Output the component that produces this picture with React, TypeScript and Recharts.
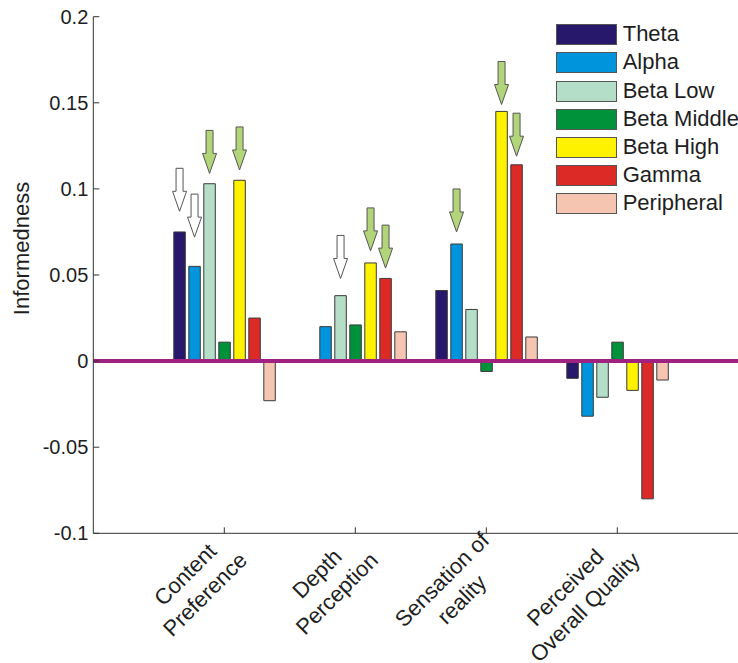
import React from "react";
import { BarChart, Bar, XAxis, YAxis, ReferenceLine, Legend, Rectangle } from "recharts";

const categories = [
  "Content Preference",
  "Depth Perception",
  "Sensation of reality",
  "Perceived Overall Quality",
];
const tickLines = [
  ["Content", "Preference"],
  ["Depth", "Perception"],
  ["Sensation of", "reality"],
  ["Perceived", "Overall Quality"],
];

const theta = [0.075, null, 0.041, -0.01];
const alpha = [0.055, 0.02, 0.068, -0.032];
const betaLow = [0.103, 0.038, 0.03, -0.021];
const betaMiddle = [0.011, 0.021, -0.006, 0.011];
const betaHigh = [0.105, 0.057, 0.145, -0.017];
const gamma = [0.025, 0.048, 0.114, -0.08];
const peripheral = [-0.023, 0.017, 0.014, -0.011];

const yTicks = [-0.1, -0.05, 0, 0.05, 0.1, 0.15, 0.2];

// arrows marking bars; tip = value where the arrow point sits
const arrows = [
  { category: "Content Preference", band: "theta", kind: "white", tip: 0.087 },
  { category: "Content Preference", band: "alpha", kind: "white", tip: 0.072 },
  { category: "Content Preference", band: "betaLow", kind: "green", tip: 0.109 },
  { category: "Content Preference", band: "betaHigh", kind: "green", tip: 0.111 },
  { category: "Depth Perception", band: "betaLow", kind: "white", tip: 0.048 },
  { category: "Depth Perception", band: "betaHigh", kind: "green", tip: 0.064 },
  { category: "Depth Perception", band: "gamma", kind: "green", tip: 0.054 },
  { category: "Sensation of reality", band: "alpha", kind: "green", tip: 0.075 },
  { category: "Sensation of reality", band: "betaHigh", kind: "green", tip: 0.149 },
  { category: "Sensation of reality", band: "gamma", kind: "green", tip: 0.119 },
];

const bands = [
  { key: "theta", name: "Theta", color: "#27186b" },
  { key: "alpha", name: "Alpha", color: "#0094dc" },
  { key: "betaLow", name: "Beta Low", color: "#b5dec9" },
  { key: "betaMiddle", name: "Beta Middle", color: "#00913b" },
  { key: "betaHigh", name: "Beta High", color: "#fff200" },
  { key: "gamma", name: "Gamma", color: "#dc2a27" },
  { key: "peripheral", name: "Peripheral", color: "#f6c5b2" },
];

const data = categories.map((name, i) => ({
  name,
  theta: theta[i],
  alpha: alpha[i],
  betaLow: betaLow[i],
  betaMiddle: betaMiddle[i],
  betaHigh: betaHigh[i],
  gamma: gamma[i],
  peripheral: peripheral[i],
}));

const FONT = '"Liberation Sans", Arial, sans-serif';
const AXIS = "#333";
const TEXT = "#1e1e1e";

let measureCtx: CanvasRenderingContext2D | null = null;
function textWidth(s: string, size: number) {
  if (!measureCtx && typeof document !== "undefined") {
    measureCtx = document.createElement("canvas").getContext("2d");
  }
  if (!measureCtx) return s.length * size * 0.5;
  measureCtx.font = `${size}px "Liberation Sans"`;
  return measureCtx.measureText(s).width;
}

function CategoryTick(props: any) {
  const { x, y, payload } = props;
  const lines = tickLines[categories.indexOf(payload.value)] || [payload.value];
  const size = 22;
  const maxW = Math.max(...lines.map((l) => textWidth(l, size)));
  return (
    <g>
      <line x1={x} x2={x} y1={y} y2={y - 6} stroke={AXIS} strokeWidth={1} />
      <g transform={`translate(${x},${y}) rotate(-45)`}>
        {lines.map((l, i) => (
          <text
            key={i}
            x={-maxW / 2 - 3}
            y={9 + i * 28}
            textAnchor="middle"
            fontSize={size}
            fontFamily={FONT}
            fill={TEXT}
          >
            {l}
          </text>
        ))}
      </g>
    </g>
  );
}

function TopTick(props: any) {
  const { x, y } = props;
  return <line x1={x} x2={x} y1={y} y2={y + 6} stroke={AXIS} strokeWidth={1} />;
}

function ValueTick(props: any) {
  const { x, y, payload } = props;
  return (
    <g>
      <line x1={x} x2={x + 6} y1={y} y2={y} stroke={AXIS} strokeWidth={1} />
      <text
        x={x - 5}
        y={y + 7}
        textAnchor="end"
        fontSize={20}
        fontFamily={FONT}
        fill={TEXT}
      >
        {String(payload.value)}
      </text>
    </g>
  );
}

function YLabel(props: any) {
  const vb = props.viewBox || { x: 0 };
  return (
    <text
      transform={`translate(${vb.x + 20.5},248.5) rotate(-90)`}
      textAnchor="middle"
      fontSize={22}
      fontFamily={FONT}
      fill={TEXT}
    >
      Informedness
    </text>
  );
}

function ArrowBar(props: any) {
  const { x, y, width, height, fill, stroke, payload, band } = props;
  const v = payload ? payload[band] : null;
  if (v == null) return null;
  const mark = arrows.find((a) => a.category === payload.name && a.band === band);
  let arrow = null;
  if (mark && v !== 0) {
    const ppu = Math.abs(height) / Math.abs(v);
    const zeroY = v >= 0 ? y + height : y;
    const tipY = zeroY - mark.tip * ppu;
    const cx = x + width / 2;
    const pts = [
      [cx - 3.5, tipY - 43],
      [cx + 3.5, tipY - 43],
      [cx + 3.5, tipY - 20],
      [cx + 7, tipY - 20],
      [cx, tipY],
      [cx - 7, tipY - 20],
      [cx - 3.5, tipY - 20],
    ]
      .map((p) => p.join(","))
      .join(" ");
    arrow = (
      <polygon
        points={pts}
        fill={mark.kind === "green" ? "#b3d57a" : "#ffffff"}
        stroke="#555"
        strokeWidth={1}
      />
    );
  }
  return (
    <g>
      <Rectangle x={x} y={y} width={width} height={height} fill={fill} stroke={stroke} strokeWidth={1} />
      {arrow}
    </g>
  );
}

function LegendContent(props: any) {
  const order = bands.map((b) => b.name);
  const payload = [...(props.payload || [])].sort(
    (a: any, b: any) => order.indexOf(a.value) - order.indexOf(b.value)
  );
  return (
    <div style={{ position: "relative", width: 190, height: 7 * 28.2, fontFamily: FONT }}>
      {payload.map((entry: any, i: number) => (
        <div key={entry.value} style={{ position: "absolute", left: 0, top: i * 28.2, height: 28 }}>
          <div
            style={{
              position: "absolute",
              left: 0,
              top: 0,
              width: 61,
              height: 21,
              boxSizing: "border-box",
              border: "1px solid #555",
              background: entry.color,
            }}
          />
          <div
            style={{
              position: "absolute",
              left: 67,
              top: -1.2,
              fontSize: 22,
              lineHeight: "22px",
              whiteSpace: "nowrap",
              color: TEXT,
            }}
          >
            {entry.value}
          </div>
        </div>
      ))}
    </div>
  );
}

export default function App() {
  return (
    <div
      style={{
        position: "absolute",
        left: 8,
        top: 0,
        width: 730,
        height: 663,
        overflow: "hidden",
        fontFamily: FONT,
        background: "#fff",
      }}
    >
      <BarChart
        width={760}
        height={663}
        data={data}
        margin={{ top: 16.7, right: 19.7, bottom: 19.7, left: 0 }}
        barSize={11.5}
        barGap={3.5}
      >
        <XAxis
          dataKey="name"
          type="category"
          interval={0}
          height={110}
          padding={{ left: 65.5, right: 65.5 }}
          axisLine={{ stroke: AXIS, strokeWidth: 1 }}
          tickLine={false}
          tickSize={0}
          tickMargin={0}
          tick={<CategoryTick />}
        />
        <XAxis
          xAxisId="top"
          orientation="top"
          dataKey="name"
          type="category"
          interval={0}
          height={0}
          padding={{ left: 65.5, right: 65.5 }}
          axisLine={{ stroke: AXIS, strokeWidth: 1 }}
          tickLine={false}
          tickSize={0}
          tickMargin={0}
          tick={<TopTick />}
        />
        <YAxis
          type="number"
          domain={[-0.1, 0.2]}
          ticks={yTicks}
          allowDataOverflow
          width={85.3}
          axisLine={{ stroke: AXIS, strokeWidth: 1 }}
          tickLine={false}
          tickSize={0}
          tickMargin={0}
          tick={<ValueTick />}
          label={<YLabel />}
        />
        <Legend
          layout="vertical"
          align="center"
          verticalAlign="middle"
          wrapperStyle={{ position: "absolute", left: 547.7, top: 24.3, width: "auto", height: "auto" }}
          content={<LegendContent />}
        />
        {bands.map((b) => (
          <Bar
            key={b.key}
            dataKey={b.key}
            name={b.name}
            fill={b.color}
            stroke="#3a3a3a"
            strokeWidth={1}
            isAnimationActive={false}
            shape={(p: any) => <ArrowBar {...p} band={b.key} />}
          />
        ))}
        <ReferenceLine y={0} stroke="#a0217f" strokeWidth={4} />
      </BarChart>
    </div>
  );
}
